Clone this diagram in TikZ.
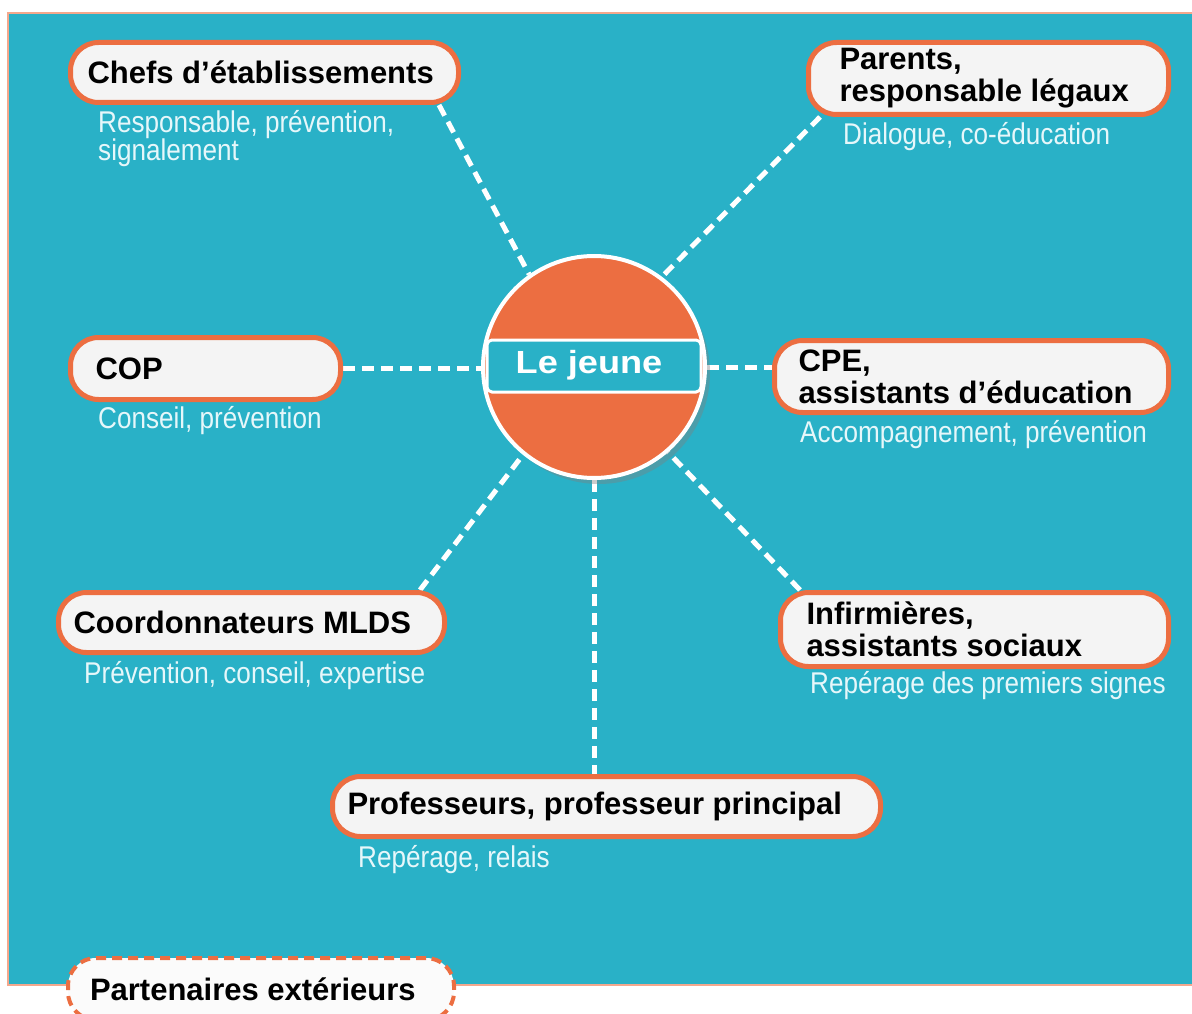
\documentclass[tikz,border=0pt]{standalone}
\usepackage{fontspec}
\setmainfont{Liberation Sans}
\newfontfamily\narrowfont[FakeStretch=0.87]{Liberation Sans}
\newfontfamily\widefont[FakeStretch=1.13]{Liberation Sans}
\usetikzlibrary{shadows}
\definecolor{lagon}{HTML}{29B1C7}
\definecolor{corail}{HTML}{EC6E41}
\definecolor{nacre}{HTML}{F4F4F4}
\definecolor{brume}{HTML}{E6F7FA}
\pgfdeclarelayer{fond}
\pgfsetlayers{fond,main}
\tikzset{
  acteur/.style={draw=corail, line width=5pt, fill=nacre, rounded corners=28pt,
    anchor=north west, align=flush left, inner ysep=0pt,
    font=\fontsize{31}{32}\selectfont\bfseries},
  role/.style={anchor=west, text=brume, align=left, inner sep=0pt,
    font=\narrowfont\fontsize{30}{28}\selectfont},
  lien/.style={white, line width=5pt, dash pattern=on 12pt off 7pt},
}
\begin{document}
\begin{tikzpicture}[x=1pt, y=-1pt]
    \useasboundingbox (0,0) rectangle (1192,1014);
    % le jeune au centre
    \node[circle, fill=corail, draw=white, line width=4pt, minimum size=222pt,
          drop shadow={shadow xshift=5pt, shadow yshift=-6pt, opacity=0.4}] (jeune) at (594,367) {};
    \draw[white, line width=3pt, fill=lagon, rounded corners=5pt] (487,340) rectangle (701,392);
    \node[text=white, font=\widefont\fontsize{32}{32}\selectfont\bfseries] (jeunetxt) at (589,365) {Le jeune};
    % les acteurs
    \node[acteur, minimum width=388pt, minimum height=60pt, inner xsep=17pt, text width=354pt] (chefs) at (68,40) {Chefs d’établissements};
    \node[acteur, minimum width=360pt, minimum height=72pt, inner xsep=31pt, text width=298pt] (parents) at (806,40) {Parents,\\responsable légaux};
    \node[acteur, minimum width=270pt, minimum height=62pt, inner xsep=25pt, text width=220pt] (cop) at (68,335) {COP};
    \node[acteur, minimum width=394pt, minimum height=72pt, inner xsep=24pt, text width=346pt] (cpe) at (772,338) {CPE,\\assistants d’éducation};
    \node[acteur, minimum width=386pt, minimum height=60pt, inner xsep=15pt, text width=356pt] (mlds) at (56,590) {Coordonnateurs MLDS};
    \node[acteur, minimum width=388pt, minimum height=74pt, inner xsep=26pt, text width=336pt] (infirm) at (778,590) {Infirmières,\\assistants sociaux};
    \node[acteur, minimum width=548pt, minimum height=60pt, inner xsep=15pt, text width=518pt] (profs) at (330,774) {Professeurs, professeur principal};
    \node[acteur, fill=white!97!gray, line width=4pt, dash pattern=on 10pt off 6pt,
          minimum width=386pt, minimum height=62pt, inner xsep=22pt, text width=342pt] (partenaires) at (66,956) {Partenaires extérieurs};
    % leurs roles
    \node[role] (chefsrole) at (98,139) {Responsable, prévention,\\signalement};
    \node[role] (parentsrole) at (843,137) {Dialogue, co-éducation};
    \node[role] (coprole) at (98,421) {Conseil, prévention};
    \node[role] (cperole) at (800,435) {Accompagnement, prévention};
    \node[role] (mldsrole) at (84,676) {Prévention, conseil, expertise};
    \node[role] (infirmrole) at (810,686) {Repérage des premiers signes};
    \node[role] (profsrole) at (358,860) {Repérage, relais};
    \begin{pgfonlayer}{fond}
        \draw[fill=lagon, draw=corail!60, line width=2pt] (8,13) rectangle (1198,985);
        \draw[lien] ([xshift=-22pt]chefs.south east) -- (jeune.125);
        \draw[lien] ([xshift=14pt]parents.south west) -- (jeune.53);
        \draw[lien] (cop.east) -- (cop.east -| jeune.west);
        \draw[lien] (jeune.east) -- (jeune.east -| cpe.west);
        \draw[lien] ([xshift=-27pt]mlds.north east) -- (jeune.231);
        \draw[lien] ([xshift=22pt]infirm.north west) -- (jeune.311);
        \draw[lien] (jeune.south) -- (jeune.south |- profs.north);
    \end{pgfonlayer}
\end{tikzpicture}
\end{document}
